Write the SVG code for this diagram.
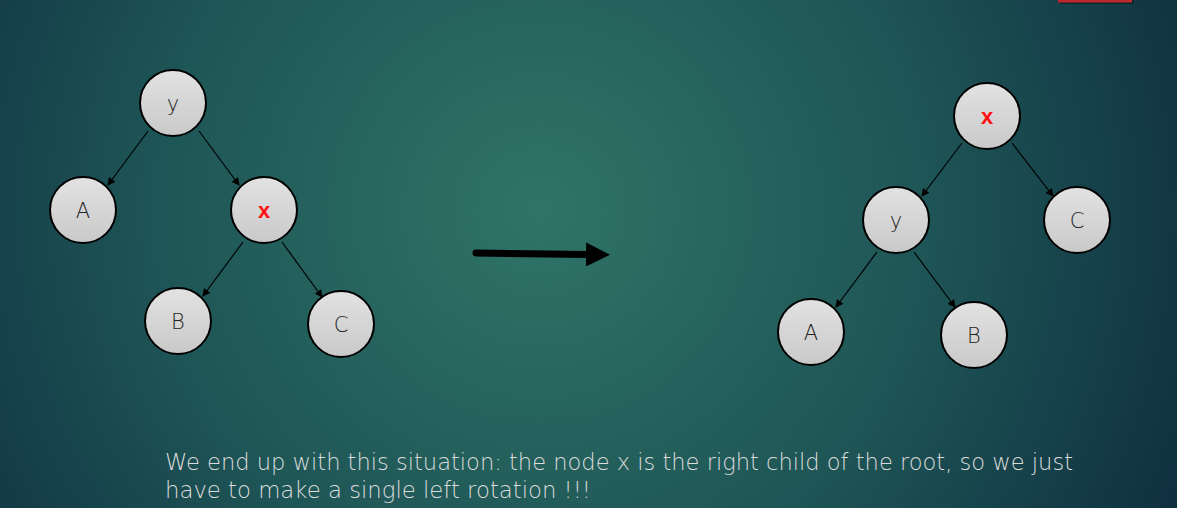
<svg xmlns="http://www.w3.org/2000/svg" width="1177" height="508" viewBox="0 0 1177 508">
<defs>
<radialGradient id="bg" cx="540" cy="210" r="700" gradientUnits="userSpaceOnUse">
<stop offset="0" stop-color="#2F7467"/>
<stop offset="0.55" stop-color="#1E5556"/>
<stop offset="1" stop-color="#0F3040"/>
</radialGradient>
<linearGradient id="nf" x1="0" y1="0" x2="0" y2="1">
<stop offset="0" stop-color="#E2E2E2"/>
<stop offset="1" stop-color="#C9C9C9"/>
</linearGradient>
<marker id="ah" markerWidth="8" markerHeight="8" refX="7" refY="4" orient="auto" markerUnits="userSpaceOnUse">
<path d="M0,0 L8,4 L0,8 Z" fill="#000"/>
</marker>
<marker id="big" markerWidth="26" markerHeight="24" refX="2" refY="12" orient="auto" markerUnits="userSpaceOnUse">
<path d="M0,0 L24,12 L0,24 Z" fill="#000"/>
</marker>
</defs>
<style>
.n circle{fill:url(#nf);stroke:#000;stroke-width:2}
.n text{font-family:"DejaVu Sans","Liberation Sans",sans-serif;font-size:21px;font-weight:200;fill:#222;text-anchor:middle}
.n text.r{font-family:"Liberation Sans",sans-serif;font-weight:bold;fill:#FF1010;font-size:22px}
.e line{stroke:#000;stroke-width:1.2;marker-end:url(#ah)}
.cap{font-family:"DejaVu Sans","Liberation Sans",sans-serif;font-size:23px;font-weight:200;fill:#DCDCDC}
</style>
<rect width="1177" height="508" fill="url(#bg)"/>
<rect x="1060" y="0" width="74" height="4" fill="#0a1a20" opacity="0.6"/>
<rect x="1058" y="0" width="74" height="2.5" fill="#C0272D"/>
<g id="connectors" class="e">
<line x1="148" y1="131" x2="108" y2="185"/>
<line x1="199" y1="131" x2="239" y2="185"/>
<line x1="243" y1="242" x2="203" y2="296"/>
<line x1="282" y1="242" x2="322" y2="297"/>
<line x1="962" y1="143" x2="922" y2="196"/>
<line x1="1012" y1="143" x2="1053" y2="196"/>
<line x1="877" y1="252" x2="836" y2="307"/>
<line x1="914" y1="252" x2="955" y2="307"/>
</g>
<g id="left-y" class="n"><circle cx="173" cy="103" r="33"/><text x="173" y="111">y</text></g>
<g id="left-A" class="n"><circle cx="83" cy="210" r="33"/><text x="83" y="218">A</text></g>
<g id="left-x" class="n"><circle cx="264" cy="210" r="33"/><text class="r" x="264" y="218">x</text></g>
<g id="left-B" class="n"><circle cx="178" cy="321" r="33"/><text x="178" y="329">B</text></g>
<g id="left-C" class="n"><circle cx="341" cy="324" r="33"/><text x="341" y="332">C</text></g>
<g id="right-x" class="n"><circle cx="987" cy="116" r="33"/><text class="r" x="987" y="124">x</text></g>
<g id="right-y" class="n"><circle cx="896" cy="220" r="33"/><text x="896" y="228">y</text></g>
<g id="right-C" class="n"><circle cx="1077" cy="220" r="33"/><text x="1077" y="228">C</text></g>
<g id="right-A" class="n"><circle cx="811" cy="332" r="33"/><text x="811" y="340">A</text></g>
<g id="right-B" class="n"><circle cx="974" cy="335" r="33"/><text x="974" y="343">B</text></g>
<g id="arrow">
<line x1="476" y1="253" x2="588" y2="254.5" stroke="#000" stroke-width="7" stroke-linecap="round" marker-end="url(#big)"/>
</g>
<text class="cap" x="165" y="470" textLength="908" lengthAdjust="spacingAndGlyphs">We end up with this situation: the node x is the right child of the root, so we just</text>
<text class="cap" x="165" y="498" textLength="426" lengthAdjust="spacingAndGlyphs">have to make a single left rotation !!!</text>
</svg>
